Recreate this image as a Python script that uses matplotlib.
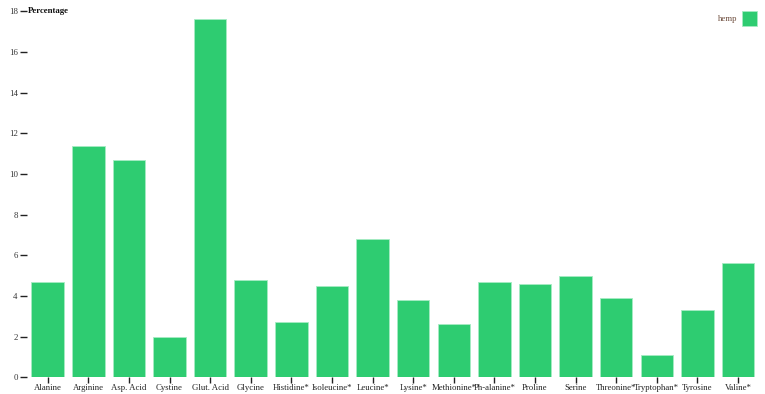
import matplotlib.pyplot as plt
from matplotlib.patches import Rectangle

# amino acid profile, hemp
acidos = ['Alanine', 'Arginine', 'Asp. Acid', 'Cystine', 'Glut. Acid', 'Glycine',
          'Histidine*', 'Isoleucine*', 'Leucine*', 'Lysine*', 'Methionine*',
          'Ph-alanine*', 'Proline', 'Serine', 'Threonine*', 'Tryptophan*',
          'Tyrosine', 'Valine*']
hemp = [4.7, 11.4, 10.7, 2.0, 17.6, 4.8, 2.7, 4.5, 6.8, 3.8, 2.6,
        4.7, 4.6, 5.0, 3.9, 1.1, 3.3, 5.6]
yticks = [0, 2, 4, 6, 8, 10, 12, 14, 16, 18]

plt.rcParams['font.family'] = ['Liberation Serif', 'DejaVu Serif']

W, H = 765, 394
fig = plt.figure(figsize=(W / 100, H / 100), dpi=100)
ax = fig.add_axes([27.4 / W, 1 - 377.3 / H, (758.3 - 27.4) / W, (377.3 - 11.3) / H])

x = list(range(len(acidos)))
ax.bar(x, hemp, width=0.8, color='#2ecc71', edgecolor='#a6ecc3', linewidth=0.6)

ax.set_xlim(-0.5, len(acidos) - 0.5)
ax.set_ylim(0, 18)
ax.set_xticks(x)
ax.set_xticklabels(acidos)
ax.set_yticks(yticks)
ax.set_yticklabels([str(v) for v in yticks])
for s in ax.spines.values():
    s.set_visible(False)
ax.tick_params(axis='y', length=5, width=1, color='#222222',
               labelsize=6.3, labelcolor='#333333', pad=2)
ax.tick_params(axis='x', length=4, width=1, color='#222222',
               labelsize=6.3, labelcolor='#222222', pad=0.5)

ax.text(-0.5, 18, 'Percentage', transform=ax.transData, fontsize=6.3,
        fontweight='bold', color='#111111', ha='left', va='center')

# legenda
fig.text(737 / W, 1 - 19 / H, 'hemp', fontsize=6.3, color='#6b4a3a',
         ha='right', va='center')
fig.patches.append(Rectangle((742 / W, 1 - 26 / H), 15 / W, 15 / H,
                             transform=fig.transFigure, facecolor='#2ecc71',
                             edgecolor='#a6ecc3', linewidth=0.6))

fig.savefig('out.png', dpi=100)
